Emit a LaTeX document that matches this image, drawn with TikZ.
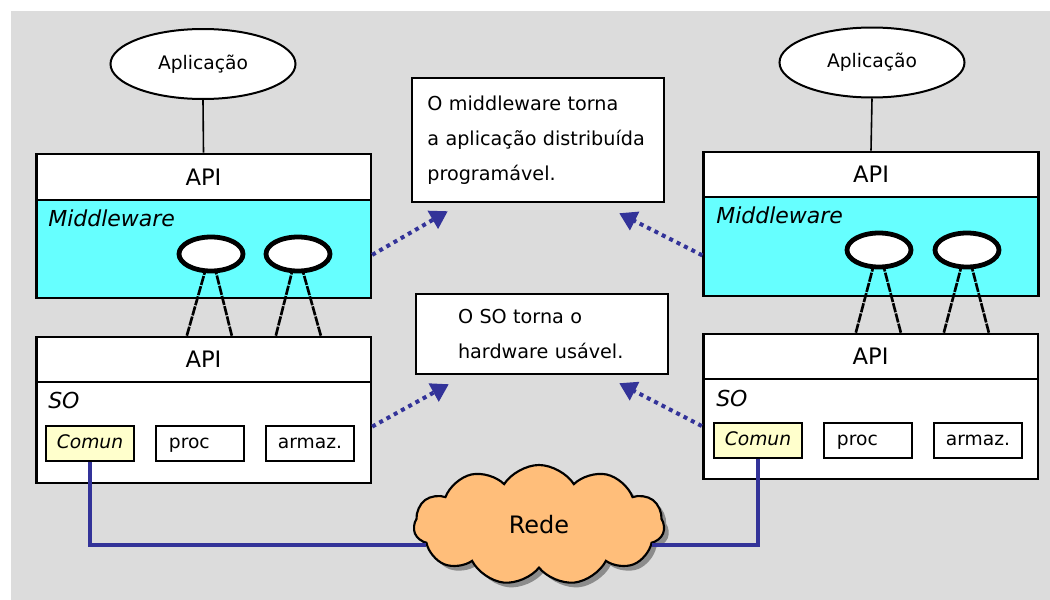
\documentclass[tikz,border=0pt]{standalone}
\usepackage{fontspec}
\setmainfont{DejaVu Sans}
\usetikzlibrary{shapes.geometric,shapes.symbols,shadows,arrows.meta,calc}

\definecolor{panelgray}{RGB}{220,220,220}
\definecolor{mwcyan}{RGB}{102,255,255}
\definecolor{comyellow}{RGB}{255,255,204}
\definecolor{netblue}{RGB}{51,51,153}
\definecolor{cloudorange}{RGB}{255,190,122}

\begin{document}
\begin{tikzpicture}[x=0.75pt,y=-0.75pt,
  layer/.style={draw=black, line width=2pt, fill=white, minimum width=251pt,
                inner sep=0pt, font=\fontsize{17}{20}\selectfont},
  tag/.style={inner sep=0pt, font=\fontsize{16.5}{20}\selectfont\itshape},
  unit/.style={draw=black, line width=2pt, fill=white, minimum width=66pt,
               minimum height=26.25pt, inner sep=0pt, text height=9pt, text depth=2pt,
               font=\fontsize{14}{17}\selectfont},
  app/.style={ellipse, draw=black, line width=1.5pt, fill=white, minimum width=138.75pt,
              minimum height=52.5pt, inner sep=0pt, font=\fontsize{14}{17}\selectfont},
  obj/.style={ellipse, draw=black, line width=3.6pt, fill=white, minimum width=48pt,
              minimum height=25.5pt, inner sep=0pt},
  leg/.style={draw=black, line width=2pt, dash pattern=on 7pt off 0.9pt},
  stem/.style={draw=black, line width=1.2pt},
  note/.style={draw=black, line width=1.8pt, fill=white, minimum width=189pt,
               align=left, inner ysep=0pt,
               font=\fontsize{14.4}{26.25}\selectfont},
  flow/.style={draw=netblue, line width=3pt, dash pattern=on 3pt off 3.2pt,
               -{Triangle[width=15pt,length=13pt]}},
  net/.style={draw=netblue, line width=3pt}
]
% canvas
\useasboundingbox (0,0) rectangle (1050,600);
\fill[white] (0,0) rectangle (1050,600);
\fill[panelgray] (11,11) rectangle (1050,600);

% ---------- left host ----------
\node[app] (appL) at (203,64) {Aplicação};
\node[layer, fill=mwcyan, minimum height=73.5pt] (mwL) at (203.5,249) {};
\node[layer, minimum height=34.5pt] (apiL) at (203.5,177) {API};
\node[tag, anchor=base west] (mwLlbl) at (48,226) {Middleware};
\node[layer, minimum height=75.75pt] (soL) at (203.5,432.5) {};
\node[layer, minimum height=33.75pt] (apiSL) at (203.5,359.5) {API};
\node[tag, anchor=base west] (soLlbl) at (48,408) {SO};
\node[unit, fill=comyellow, font=\fontsize{14}{17}\selectfont\itshape] (comL) at (90,443.5) {Comun};
\node[unit] (procL) at (200,443.5) {proc\hspace*{16pt}};
\node[unit] (armL) at (310,443.5) {armaz.};

\draw[leg] ($(apiSL.north west)+(152,0)$) -- (211-5,268);
\draw[leg] ($(apiSL.north west)+(197,0)$) -- (211+4,268);
\draw[leg] ($(apiSL.north west)+(241,0)$) -- (298-5,268);
\draw[leg] ($(apiSL.north west)+(286,0)$) -- (298+4,268);
\node[obj] (e1L) at (211,254) {};
\node[obj] (e2L) at (298,254) {};
\draw[stem] (appL.south) -- (apiL.north);

% ---------- right host ----------
\node[app] (appR) at (872,62.5) {Aplicação};
\node[layer, fill=mwcyan, minimum height=74.25pt] (mwR) at (871,246.5) {};
\node[layer, minimum height=33.75pt] (apiR) at (871,174.5) {API};
\node[tag, anchor=base west] (mwRlbl) at (716,223) {Middleware};
\node[layer, minimum height=75pt] (soR) at (870.5,429) {};
\node[layer, minimum height=33.75pt] (apiSR) at (870.5,356.5) {API};
\node[tag, anchor=base west] (soRlbl) at (716,406) {SO};
\node[unit, fill=comyellow, font=\fontsize{14}{17}\selectfont\itshape] (comR) at (758,440.5) {Comun};
\node[unit] (procR) at (868,440.5) {proc\hspace*{16pt}};
\node[unit] (armR) at (978,440.5) {armaz.};

\draw[leg] ($(apiSR.north west)+(154,0)$) -- (879-5,264);
\draw[leg] ($(apiSR.north west)+(199,0)$) -- (879+4,264);
\draw[leg] ($(apiSR.north west)+(242,0)$) -- (967-5,264);
\draw[leg] ($(apiSR.north west)+(287,0)$) -- (967+4,264);
\node[obj] (e1R) at (879,250) {};
\node[obj] (e2R) at (967,250) {};
\draw[stem] (appR.south) -- (apiR.north);

% ---------- explanatory notes ----------
\node[note, minimum height=93pt, text width=166pt, inner xsep=11.5pt] (noteMW) at (538,140)
  {O middleware torna\\a aplicação distribuída\\programável.};
\node[note, minimum height=60pt, text width=126pt, inner xsep=31.5pt] (noteSO) at (542,334)
  {O SO torna o\\hardware usável.};

\draw[flow] (mwL.-2)    -- ($(noteMW.south west)+(37,8)$);
\draw[flow] (mwR.183.6) -- ($(noteMW.south east)+(-46,10)$);
\draw[flow] (soL.2)     -- ($(noteSO.south west)+(34,9)$);
\draw[flow] (soR.179)   -- ($(noteSO.south east)+(-50,8)$);

% ---------- network ----------
\node[cloud, cloud puffs=11, cloud puff arc=115, aspect=2, draw=black, line width=1.6pt,
      fill=cloudorange, minimum width=188pt, minimum height=90pt, inner sep=0pt,
      font=\fontsize{18}{22}\selectfont,
      drop shadow={shadow xshift=3.5pt, shadow yshift=-3.5pt, fill=black!45, opacity=1}]
      (cloud) at (539,525) {Rede};
\draw[net] (comL.south) |- (cloud.190);
\draw[net] (comR.south) |- (cloud.-10);
\end{tikzpicture}
\end{document}
